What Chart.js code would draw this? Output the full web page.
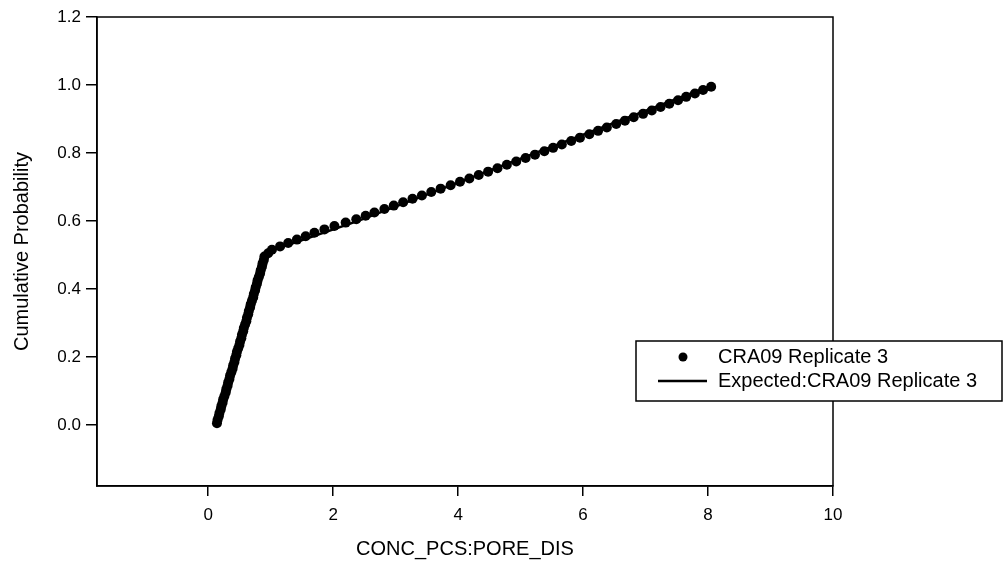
<!DOCTYPE html>
<html>
<head>
<meta charset="utf-8">
<script src="https://cdn.jsdelivr.net/npm/chart.js@4.4.1/dist/chart.umd.min.js"></script>
<style>
  html, body { margin: 0; padding: 0; background: #fff; }
  #wrap { width: 1005px; height: 573px; }
</style>
</head>
<body>
<div id="wrap"><canvas id="chart" width="1005" height="573"></canvas></div>
<script>
// observed values (x) and their cumulative probabilities
const concValues = [
  0.14, 0.15, 0.17, 0.18, 0.20, 0.21, 0.23, 0.24, 0.26, 0.28,
  0.29, 0.31, 0.32, 0.34, 0.35, 0.37, 0.39, 0.40, 0.42, 0.43,
  0.45, 0.46, 0.48, 0.50, 0.51, 0.53, 0.54, 0.56, 0.57, 0.59,
  0.61, 0.62, 0.64, 0.65, 0.67, 0.68, 0.70, 0.72, 0.73, 0.75,
  0.76, 0.78, 0.79, 0.81, 0.83, 0.84, 0.86, 0.87, 0.89, 0.90,
  0.96, 1.02, 1.15, 1.28, 1.42, 1.56, 1.70, 1.86, 2.02, 2.20,
  2.37, 2.52, 2.66, 2.82, 2.97, 3.12, 3.27, 3.42, 3.57, 3.72,
  3.88, 4.03, 4.18, 4.33, 4.48, 4.63, 4.78, 4.93, 5.08, 5.23,
  5.38, 5.52, 5.66, 5.81, 5.95, 6.10, 6.24, 6.38, 6.53, 6.67,
  6.81, 6.96, 7.10, 7.24, 7.38, 7.52, 7.65, 7.79, 7.92, 8.05
];
const cumProb = [
  0.005, 0.015, 0.025, 0.035, 0.045, 0.055, 0.065, 0.075, 0.085, 0.095,
  0.105, 0.115, 0.125, 0.135, 0.145, 0.155, 0.165, 0.175, 0.185, 0.195,
  0.205, 0.215, 0.225, 0.235, 0.245, 0.255, 0.265, 0.275, 0.285, 0.295,
  0.305, 0.315, 0.325, 0.335, 0.345, 0.355, 0.365, 0.375, 0.385, 0.395,
  0.405, 0.415, 0.425, 0.435, 0.445, 0.455, 0.465, 0.475, 0.485, 0.495,
  0.505, 0.515, 0.525, 0.535, 0.545, 0.555, 0.565, 0.575, 0.585, 0.595,
  0.605, 0.615, 0.625, 0.635, 0.645, 0.655, 0.665, 0.675, 0.685, 0.695,
  0.705, 0.715, 0.725, 0.735, 0.745, 0.755, 0.765, 0.775, 0.785, 0.795,
  0.805, 0.815, 0.825, 0.835, 0.845, 0.855, 0.865, 0.875, 0.885, 0.895,
  0.905, 0.915, 0.925, 0.935, 0.945, 0.955, 0.965, 0.975, 0.985, 0.995
];

// expected curve
const expectedX = [0.12, 0.90, 1.05, 2.40, 8.08];
const expectedY = [0.00, 0.49, 0.515, 0.60, 1.00];

const xTicks = [0, 2, 4, 6, 8, 10];
const yTicks = [0.0, 0.2, 0.4, 0.6, 0.8, 1.0, 1.2];

const seriesLabels = ['CRA09 Replicate 3', 'Expected:CRA09 Replicate 3'];
const xTitle = 'CONC_PCS:PORE_DIS';
const yTitle = 'Cumulative Probability';

const FONT = "'Liberation Sans', Arial, sans-serif";

const ctx = document.getElementById('chart').getContext('2d');

// frame around the plot + legend box
const framePlugin = {
  id: 'frame',
  afterDraw(chart) {
    const c = chart.ctx;
    const a = chart.chartArea;
    c.save();
    c.strokeStyle = '#000';
    c.lineWidth = 1.5;
    c.strokeRect(a.left, a.top, a.right - a.left, a.bottom - a.top);

    // legend
    const box = { x: 636, y: 341, w: 366, h: 60 };
    c.fillStyle = '#fff';
    c.fillRect(box.x, box.y, box.w, box.h);
    c.lineWidth = 1.5;
    c.strokeRect(box.x, box.y, box.w, box.h);

    c.fillStyle = '#000';
    c.beginPath();
    c.arc(683, 357, 4.5, 0, Math.PI * 2);
    c.fill();

    c.lineWidth = 2.5;
    c.beginPath();
    c.moveTo(658, 381);
    c.lineTo(707, 381);
    c.stroke();

    c.font = '20px ' + FONT;
    c.textBaseline = 'middle';
    c.textAlign = 'left';
    c.fillText(seriesLabels[0], 718, 357);
    c.fillText(seriesLabels[1], 718, 381);
    c.restore();
  }
};

const chart = new Chart(ctx, {
  type: 'scatter',
  data: {
    datasets: [{
      label: seriesLabels[0],
      data: concValues.map((v, i) => ({ x: v, y: cumProb[i] })),
      backgroundColor: '#000',
      borderColor: '#000',
      pointRadius: 5,
      pointBorderWidth: 0,
      showLine: false,
      order: 1
    }, {
      label: seriesLabels[1],
      data: expectedX.map((v, i) => ({ x: v, y: expectedY[i] })),
      borderColor: '#000',
      borderWidth: 2.5,
      pointRadius: 0,
      showLine: true,
      order: 2
    }]
  },
  options: {
    responsive: false,
    animation: false,
    layout: { padding: { top: 17, right: 172, left: 0, bottom: 0 } },
    plugins: {
      legend: { display: false },
      tooltip: { enabled: false }
    },
    scales: {
      x: {
        type: 'linear',
        min: -1.78,
        max: 10,
        afterBuildTicks: (scale) => { scale.ticks = xTicks.map(v => ({ value: v })); },
        afterFit: (scale) => { scale.height = 87; },
        grid: { drawOnChartArea: false, drawTicks: true, tickLength: 10, color: '#000', lineWidth: 1.5 },
        border: { display: true, color: '#000', width: 1.5 },
        ticks: {
          color: '#000',
          font: { family: FONT, size: 17 },
          padding: 9,
          maxRotation: 0,
          callback: (v) => String(v)
        },
        title: {
          display: true,
          text: xTitle,
          color: '#000',
          font: { family: FONT, size: 20 },
          padding: { top: 0, bottom: 12 }
        }
      },
      y: {
        type: 'linear',
        min: -0.18,
        max: 1.2,
        afterBuildTicks: (scale) => { scale.ticks = yTicks.map(v => ({ value: v })); },
        afterFit: (scale) => { scale.width = 97; },
        grid: { drawOnChartArea: false, drawTicks: true, tickLength: 11, color: '#000', lineWidth: 1.5 },
        border: { display: true, color: '#000', width: 1.5 },
        ticks: {
          color: '#000',
          font: { family: FONT, size: 17 },
          padding: 5,
          callback: (v) => Number(v).toFixed(1)
        },
        title: {
          display: true,
          text: yTitle,
          color: '#000',
          font: { family: FONT, size: 20 },
          padding: { top: 10, bottom: 0 }
        }
      }
    }
  },
  plugins: [framePlugin]
});
</script>
</body>
</html>
